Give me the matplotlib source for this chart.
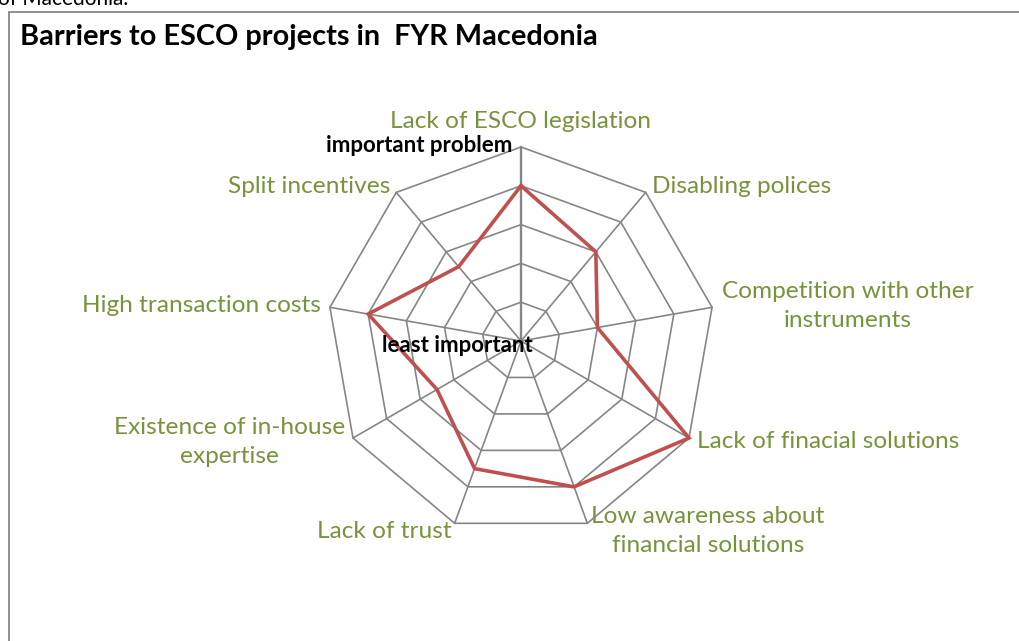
import matplotlib.pyplot as plt
import numpy as np
from matplotlib.patches import Rectangle

# Barrier categories, clockwise from the top
categories = [
    "Lack of ESCO legislation",
    "Disabling polices",
    "Competition with other\ninstruments",
    "Lack of finacial solutions",
    "Low awareness about\nfinancial solutions",
    "Lack of trust",
    "Existence of in-house\nexpertise",
    "High transaction costs",
    "Split incentives",
]
# Importance score, 0 = least important, 5 = important problem
scores = [4, 3, 2, 5, 4, 3.5, 2.5, 4, 2.5]
levels = [1, 2, 3, 4, 5]

# label placement: (offset px x, offset px y, ha)
label_pos = [
    (0, 26, "center"),
    (6, 6, "left"),
    (10, 1, "left"),
    (8, -4, "left"),
    (4, -8, "left"),
    (-3, -8, "right"),
    (-8, -4, "right"),
    (-9, 2, "right"),
    (-6, 6, "right"),
]

grid_col = "#868686"
label_col = "#77933C"
line_col = "#C0504D"
font = "Lato"

W, H = 1019, 641
fig = plt.figure(figsize=(W / 100, H / 100), dpi=100)

# axes centred on the radar, 1 unit = 38.8 px
cx, cy, half = 521, 341, 250
ax = fig.add_axes([(cx - half) / W, (H - cy - half) / H, 2 * half / W, 2 * half / H])
lim = half / 38.8
ax.set_xlim(-lim, lim)
ax.set_ylim(-lim, lim)
ax.set_aspect("equal")
ax.axis("off")

n = len(categories)
ang = np.arange(n) * 2 * np.pi / n
ux, uy = np.sin(ang), np.cos(ang)

# polygon rings
for lv in levels:
    ax.plot(np.append(ux, ux[0]) * lv, np.append(uy, uy[0]) * lv,
            color=grid_col, lw=1.2, zorder=1)
# spokes
for i in range(n):
    ax.plot([0, ux[i] * levels[-1]], [0, uy[i] * levels[-1]],
            color=grid_col, lw=1.7 if i == 0 else 1.2, zorder=1)

# data series
s = np.array(scores)
ax.plot(np.append(ux * s, ux[0] * s[0]), np.append(uy * s, uy[0] * s[0]),
        color=line_col, lw=2.6, zorder=3, solid_joinstyle="miter")

# category labels
for i, lab in enumerate(categories):
    dx, dy, ha = label_pos[i]
    ax.annotate(lab, xy=(ux[i] * levels[-1], uy[i] * levels[-1]),
                xytext=(dx, dy), textcoords="offset pixels",
                ha=ha, va="center", multialignment="center",
                color=label_col, fontsize=17.6, family=font,
                linespacing=1.45, annotation_clip=False)

# scale end labels
ax.annotate("important problem", xy=(0, levels[-1]), xytext=(-9, 2),
            textcoords="offset pixels", ha="right", va="center",
            fontsize=16, fontweight="bold", family=font, color="black")
ax.annotate("least important", xy=(0, 0), xytext=(12, -4),
            textcoords="offset pixels", ha="right", va="center",
            fontsize=16, fontweight="bold", family=font, color="black", zorder=4)

# title and chart frame
fig.text(20 / W, 1 - 37 / H, "Barriers to ESCO projects in  FYR Macedonia",
         ha="left", va="center", fontsize=20.8, fontweight="bold", family=font)
fig.patches.append(Rectangle((8.5 / W, -0.1), 1.2, 1.1 - 11.5 / H,
                             transform=fig.transFigure, fill=False,
                             edgecolor=grid_col, lw=1.3))
fig.text(-2 / W, 1 - 5 / H, "of Macedonia.", ha="left", va="baseline",
         fontsize=15, family=font)

fig.savefig("out.png", dpi=100)
